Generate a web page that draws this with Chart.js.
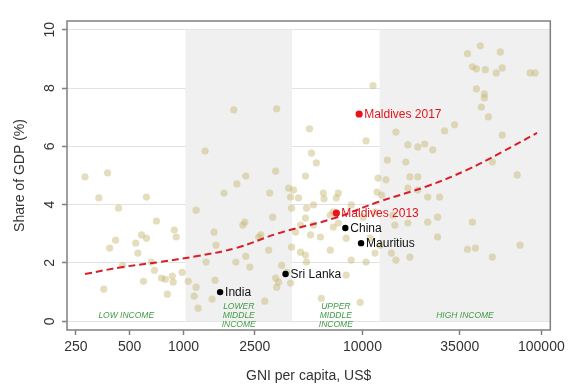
<!DOCTYPE html>
<html lang="en">
<head>
<meta charset="UTF-8">
<title>Share of GDP vs GNI per capita</title>
<script src="https://cdn.jsdelivr.net/npm/chart.js"></script>
<style>
    html, body { margin: 0; padding: 0; background: #fff; }
    canvas { display: block; }
</style>
</head>
<body>
<canvas id="chart" width="569" height="385"></canvas>
<script>
// axis ticks
const xTickValues = [250, 500, 1000, 2500, 10000, 35000, 100000];
const yTickValues = [0, 2, 4, 6, 8, 10];

// income group thresholds (GNI per capita) and band labels
const incomeBreaks = [1025, 4035, 12475];
const incomeGroups = [['LOW INCOME'], ['LOWER', 'MIDDLE', 'INCOME'], ['UPPER', 'MIDDLE', 'INCOME'], ['HIGH INCOME']];

// all countries (GNI per capita, share of GDP)
const countryGni = [
    281, 376, 336, 620, 433, 705, 887, 910, 582, 620, 417, 386, 540, 555, 456, 687, 661, 752, 791, 865, 875, 982, 597, 358, 811,
    1318, 1175, 1480, 1061, 1175, 1146, 1205, 1443, 1500, 1683, 1986, 2228, 1910, 3314, 3273, 3030, 2199, 2143, 1960, 2228,
    2344, 2843, 2990, 3148, 2630, 1336, 1518, 3864, 3963, 3532, 3767, 3397, 3314, 3273, 4016, 4227, 4016, 3963, 2700,
    4388, 4864, 5321, 6040, 6100, 7145, 7328, 4801, 4503, 5321, 6607, 6870, 5821, 4801, 4503, 4864, 5890, 8110, 8650, 9710,
    10470, 11750, 8650, 10090, 11020, 12530, 6870, 7328, 6607, 5057, 5187, 5521, 4801, 10470, 11460, 4121, 12220, 12050,
    11750, 5120, 8110,
    13530, 15380, 17940, 20380, 22290, 24690, 17470, 28770, 32720, 38650, 45600, 58940, 41190, 43340, 48600, 55980, 60430,
    86490, 92260, 43340, 48000, 48000, 46200, 50550, 60430, 53220, 73260, 18400, 20380, 17940, 20380, 23160, 26990, 26300,
    23160, 15180, 17940, 41190, 26300, 38650, 42800, 53220, 76030, 15380, 14790, 13780, 12800, 18400, 14500
];
const countryShare = [
    4.95, 5.09, 4.23, 4.26, 3.88, 3.44, 3.13, 2.89, 2.96, 2.85, 2.78, 2.51, 2.68, 2.34, 1.92, 1.75, 2.03, 1.48, 1.44, 1.55, 1.34, 1.68, 1.37, 1.10, 0.93,
    5.84, 3.81, 3.06, 1.37, 1.17, 0.86, 0.45, 0.76, 1.41, 4.40, 4.71, 4.98, 7.25, 7.29, 5.15, 4.40, 3.40, 3.30, 2.03, 2.23,
    1.86, 0.69, 2.44, 3.57, 2.89, 2.03, 2.61, 4.57, 4.26, 1.92, 1.68, 1.34, 1.17, 1.48, 3.88, 3.06, 2.54, 1.31, 2.96,
    4.23, 3.88, 3.99, 4.40, 4.20, 4.23, 4.40, 3.54, 3.30, 3.30, 3.64, 3.23, 2.89, 2.27, 2.37, 2.03, 0.79, 1.58, 2.10, 0.65,
    2.03, 2.34, 3.99, 3.57, 2.85, 2.61, 3.75, 3.37, 2.44, 6.60, 5.77, 5.43, 4.98, 6.19, 8.08, 4.50, 4.91, 4.43,
    3.75, 2.96, 2.85,
    4.85, 6.49, 6.05, 5.98, 6.08, 5.88, 5.46, 6.53, 6.74, 9.18, 9.45, 9.24, 8.73, 8.66, 8.63, 8.52, 8.69,
    8.52, 8.52, 7.97, 7.80, 7.66, 7.35, 7.01, 6.39, 5.46, 5.02, 4.95, 4.95, 4.57, 4.50, 4.26, 4.26, 3.57,
    3.40, 3.30, 3.37, 3.40, 2.89, 2.47, 2.51, 2.20, 2.61, 2.10, 3.64, 5.53, 4.33, 2.20, 2.34
];

// highlighted countries
const blackNames = ['India', 'Sri Lanka', 'China', 'Mauritius'];
const blackGni = [1600, 3715, 8020, 9820];
const blackShare = [1.0, 1.62, 3.2, 2.68];
const redNames = ['Maldives 2013', 'Maldives 2017'];
const redGni = [7145, 9580];
const redShare = [3.71, 7.11];

// fitted curve
const fitGni = [281, 456, 732, 1175, 1960, 3397, 7000, 12220, 23160, 38650, 60000, 94600];
const fitShare = [1.62, 1.86, 2.03, 2.23, 2.51, 3.02, 3.54, 4.09, 4.64, 5.2, 5.8, 6.46];

const FONT = "'Liberation Sans', Arial, sans-serif";
const TEXT = '#333';
const FRAME = '#808080';

function toPoints(xs, ys) {
    return xs.map((v, i) => ({ x: v, y: ys[i] }));
}

// shaded income bands (under the points, over the grid) + their labels
const bandPlugin = {
    id: 'bands',
    beforeDatasetsDraw(chart) {
        const { ctx, chartArea, scales: { x, y } } = chart;
        const edges = [x.min, ...incomeBreaks, x.max];
        const yTop = y.getPixelForValue(10);
        const yBot = y.getPixelForValue(0);
        ctx.save();
        ctx.fillStyle = '#f0f0f0';
        for (let i = 1; i < edges.length - 1; i += 2) {
            const x0 = Math.max(x.getPixelForValue(edges[i]), chartArea.left);
            const x1 = Math.min(x.getPixelForValue(edges[i + 1]), chartArea.right);
            ctx.fillRect(x0, yTop, x1 - x0, yBot - yTop);
        }
        ctx.fillStyle = '#3f9a44';
        ctx.font = 'italic 8.5px ' + FONT;
        ctx.textAlign = 'center';
        ctx.textBaseline = 'middle';
        incomeGroups.forEach((lines, i) => {
            const cx = x.getPixelForValue(Math.sqrt(edges[i] * edges[i + 1]));
            const cy = y.getPixelForValue(0.2);
            lines.forEach((t, k) => {
                ctx.fillText(t, cx, cy + (k - (lines.length - 1) / 2) * 9);
            });
        });
        ctx.restore();
    },
    afterDatasetsDraw(chart) {
        const { ctx } = chart;
        ctx.save();
        ctx.font = '12px ' + FONT;
        ctx.textAlign = 'left';
        ctx.textBaseline = 'middle';
        [[0, blackNames, '#111'], [1, redNames, '#e3141c']].forEach(([di, names, col]) => {
            const meta = chart.getDatasetMeta(di);
            ctx.fillStyle = col;
            meta.data.forEach((pt, i) => {
                ctx.fillText(names[i], pt.x + 5, pt.y + 0.5);
            });
        });
        ctx.restore();
    },
    afterDraw(chart) {
        const { ctx, chartArea } = chart;
        ctx.save();
        ctx.strokeStyle = FRAME;
        ctx.lineWidth = 1.5;
        ctx.strokeRect(chartArea.left, chartArea.top, chartArea.right - chartArea.left, chartArea.bottom - chartArea.top);
        ctx.restore();
    }
};

new Chart(document.getElementById('chart'), {
    type: 'scatter',
    data: {
        datasets: [
            {
                data: toPoints(blackGni, blackShare),
                backgroundColor: '#000',
                borderWidth: 0,
                pointRadius: 3.2
            },
            {
                data: toPoints(redGni, redShare),
                backgroundColor: '#e8131b',
                borderWidth: 0,
                pointRadius: 3.6
            },
            {
                data: toPoints(fitGni, fitShare),
                showLine: true,
                borderColor: '#d81e2a',
                borderWidth: 2,
                borderDash: [7, 4],
                pointRadius: 0,
                tension: 0.4,
                fill: false
            },
            {
                data: toPoints(countryGni, countryShare),
                backgroundColor: 'rgba(195, 180, 110, 0.45)',
                borderWidth: 0,
                pointRadius: 3.6
            }
        ]
    },
    options: {
        responsive: false,
        animation: false,
        events: [],
        layout: { padding: { top: 21, right: 15, left: 0, bottom: 0 } },
        plugins: {
            legend: { display: false },
            tooltip: { enabled: false }
        },
        scales: {
            x: {
                type: 'logarithmic',
                min: 223,
                max: 112200,
                afterBuildTicks: s => { s.ticks = xTickValues.map(v => ({ value: v })); },
                afterFit: s => { s.height = 55; },
                ticks: {
                    callback: v => String(v),
                    autoSkip: false,
                    minRotation: 0,
                    maxRotation: 0,
                    padding: 4,
                    color: TEXT,
                    font: { family: FONT, size: 14 }
                },
                grid: { drawOnChartArea: false, tickLength: 5, tickColor: FRAME, tickWidth: 1.5 },
                border: { display: false },
                title: {
                    display: true,
                    text: 'GNI per capita, US$',
                    color: TEXT,
                    font: { family: FONT, size: 14 },
                    padding: { top: 0, bottom: 0 }
                }
            },
            y: {
                min: -0.3,
                max: 10.3,
                afterBuildTicks: s => { s.ticks = yTickValues.map(v => ({ value: v })); },
                afterFit: s => { s.width = 67; },
                ticks: {
                    minRotation: 90,
                    maxRotation: 90,
                    crossAlign: 'center',
                    padding: 4,
                    color: TEXT,
                    font: { family: FONT, size: 14 }
                },
                grid: { color: '#e2e2e2', lineWidth: 1, tickLength: 5, tickColor: FRAME, tickWidth: 1.5 },
                border: { display: false },
                title: {
                    display: true,
                    text: 'Share of GDP (%)',
                    color: TEXT,
                    font: { family: FONT, size: 14 },
                    padding: { top: 12, bottom: 0 }
                }
            }
        }
    },
    plugins: [bandPlugin]
});
</script>
</body>
</html>
